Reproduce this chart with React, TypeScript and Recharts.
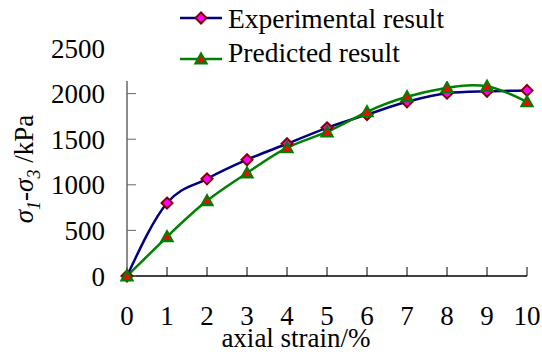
import { Line, LineChart, XAxis, YAxis } from "recharts";

const strain = [0, 1, 2, 3, 4, 5, 6, 7, 8, 9, 10];
const experimental = [0, 800, 1065, 1275, 1450, 1625, 1770, 1910, 2005, 2025, 2035];
const predicted = [0, 430, 825, 1130, 1405, 1580, 1800, 1965, 2065, 2080, 1910];
const xTicks = [0, 1, 2, 3, 4, 5, 6, 7, 8, 9, 10];
const yTicks = [0, 500, 1000, 1500, 2000, 2500];

const data = strain.map((s, i) => ({ strain: s, exp: experimental[i], pred: predicted[i] }));

const FONT = "'Liberation Serif', 'Times New Roman', serif";

function Diamond({ cx, cy }: any) {
  if (cx == null || cy == null) return null;
  const r = 5.5;
  return (
    <polygon
      points={`${cx},${cy - r} ${cx + r},${cy} ${cx},${cy + r} ${cx - r},${cy}`}
      fill="#FF00FF"
      stroke="#800000"
      strokeWidth={2}
    />
  );
}

function Triangle({ cx, cy }: any) {
  if (cx == null || cy == null) return null;
  const r = 5.5;
  return (
    <polygon
      points={`${cx},${cy - r} ${cx + r},${cy + r * 0.8} ${cx - r},${cy + r * 0.8}`}
      fill="#FF0000"
      stroke="#008000"
      strokeWidth={2.2}
    />
  );
}

function Legend() {
  return (
    <svg
      width={340}
      height={81}
      style={{ position: "absolute", left: 118, top: 0, background: "#fff", overflow: "visible" }}
    >
      <line x1={62} y1={18} x2={104} y2={18} stroke="#000080" strokeWidth={2.5} />
      <Diamond cx={83} cy={18} />
      <text x={110} y={28} fontFamily={FONT} fontSize={27.5} fill="#000">
        Experimental result
      </text>
      <line x1={62} y1={59} x2={104} y2={59} stroke="#008000" strokeWidth={2.5} />
      <Triangle cx={83} cy={59} />
      <text x={110} y={62} fontFamily={FONT} fontSize={27.5} fill="#000">
        Predicted result
      </text>
    </svg>
  );
}

function YTitle() {
  return (
    <text
      transform="translate(33,169) rotate(-90)"
      textAnchor="middle"
      fontFamily={FONT}
      fontSize={27}
      fill="#000"
    >
      <tspan fontStyle="italic">σ</tspan>
      <tspan fontStyle="italic" fontSize={18} dy={7}>1</tspan>
      <tspan dy={-7}>-</tspan>
      <tspan fontStyle="italic">σ</tspan>
      <tspan fontStyle="italic" fontSize={18} dy={7}>3</tspan>
      <tspan dy={-7}> /kPa</tspan>
    </text>
  );
}

function XTitle() {
  return (
    <text x={296} y={347} textAnchor="middle" fontFamily={FONT} fontSize={27} fill="#000">
      axial strain/%
    </text>
  );
}

export default function App() {
  return (
    <div style={{ position: "absolute", left: 0, top: 0, width: 542, height: 354, background: "#fff" }}>
      <LineChart width={542} height={354} data={data} margin={{ top: 48, right: 15, bottom: 38, left: 67 }}>
        <XAxis
          dataKey="strain"
          type="number"
          domain={[0, 10]}
          ticks={xTicks}
          height={40}
          stroke="#000"
          tickSize={-9}
          tickMargin={39}
          tick={{ fill: "#000", fontFamily: FONT, fontSize: 27 }}
          axisLine={{ stroke: "#000", strokeWidth: 1.5 }}
          tickLine={{ stroke: "#000", strokeWidth: 1 }}
          label={{ content: () => <XTitle /> }}
        />
        <YAxis
          type="number"
          domain={[0, 2500]}
          ticks={yTicks}
          width={60}
          stroke="#666"
          tickSize={-9}
          tickMargin={31}
          tick={{ fill: "#000", fontFamily: FONT, fontSize: 27 }}
          axisLine={{ stroke: "#666", strokeWidth: 1.5 }}
          tickLine={{ stroke: "#666", strokeWidth: 1 }}
          label={{ content: () => <YTitle /> }}
        />
        <Line
          dataKey="exp"
          type="monotone"
          stroke="#000080"
          strokeWidth={2.5}
          dot={<Diamond />}
          activeDot={false}
          isAnimationActive={false}
        />
        <Line
          dataKey="pred"
          type="natural"
          stroke="#008000"
          strokeWidth={2.5}
          dot={<Triangle />}
          activeDot={false}
          isAnimationActive={false}
        />
      </LineChart>
      <Legend />
    </div>
  );
}
